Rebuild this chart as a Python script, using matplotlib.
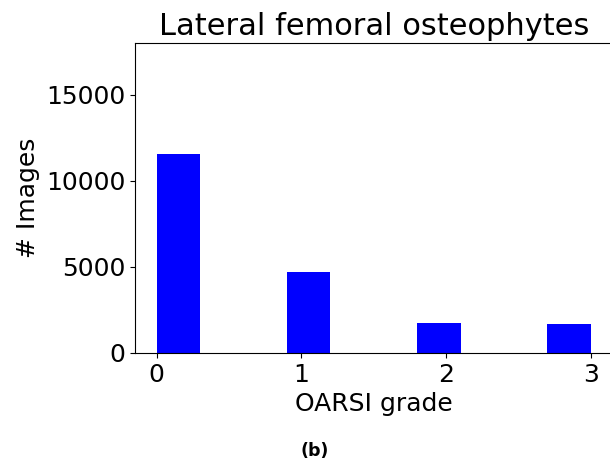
import matplotlib
matplotlib.use("Agg")
import matplotlib.pyplot as plt

grades = [0, 1, 2, 3]
counts = [11540, 4690, 1730, 1670]
tick_labels = ["0", "1", "2", "3"]
title = "Lateral femoral osteophytes"
xlabel = "OARSI grade"
ylabel = "# Images"

fig = plt.figure(figsize=(6.1, 4.63), dpi=100)
ax = fig.add_axes([135/610, 110.2/463, (612.5-135)/610, (419.7-110.2)/463])
ax.hist(grades, bins=10, range=(0, 3), weights=counts, color="blue")
ax.set_xlim(-0.15, 3.15)
ax.set_ylim(0, 18000)
ax.set_xticks(grades)
ax.set_xticklabels(tick_labels)
ax.set_yticks([0, 5000, 10000, 15000])
ax.tick_params(labelsize=18)
ax.set_title(title, fontsize=22)
ax.set_xlabel(xlabel, fontsize=18)
ax.set_ylabel(ylabel, fontsize=18)
fig.text(315/610, 1 - 451/463, "(b)", fontsize=12.5, fontweight="bold",
         ha="center", va="center")
fig.savefig("out.png", dpi=100)
